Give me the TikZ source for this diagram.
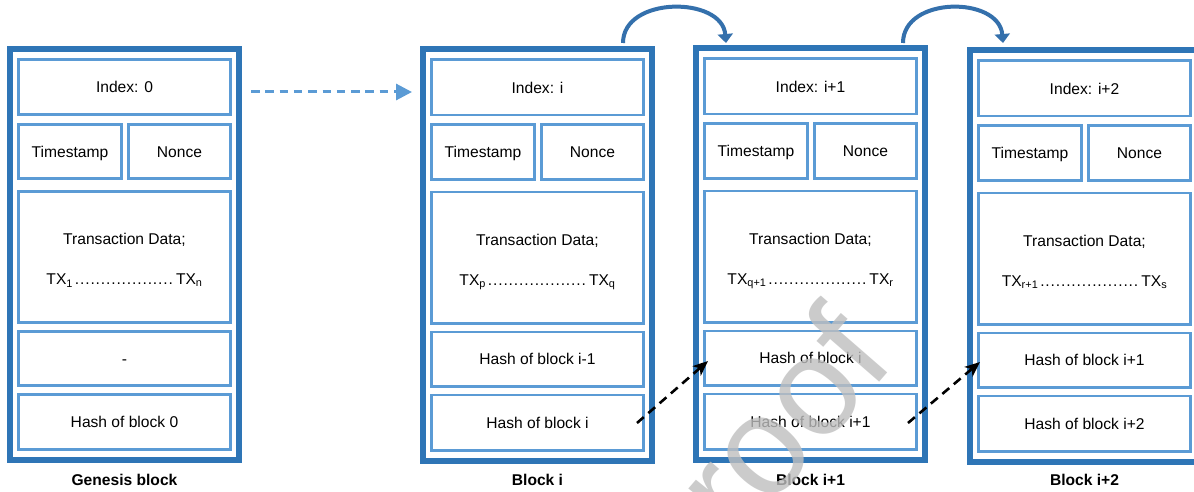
\documentclass[tikz,border=0pt]{standalone}
\usepackage{fontspec}
\setmainfont{Liberation Sans}
\usetikzlibrary{fit,arrows.meta,calc}
\definecolor{frameblue}{RGB}{46,117,182}
\definecolor{cellblue}{RGB}{91,155,213}
\definecolor{curveblue}{RGB}{52,112,172}
\newcommand{\txdots}{\hbox to 100pt{\leaders\hbox to 5.2pt{\hss.\hss}\hfill}}
\tikzset{
  frame/.style={draw=frameblue, line width=6pt, inner sep=0pt, fill=white},
  cell/.style={draw=cellblue, line width=2.6pt, inner sep=0pt},
  txt/.style={inner sep=0pt, text height=11.2pt, text depth=0pt},
  blklabel/.style={inner sep=0pt, text height=11.2pt, text depth=0pt, font=\fontsize{15.6pt}{18pt}\selectfont\bfseries},
  bluedash/.style={draw=cellblue, line width=3pt, dash pattern=on 8.5pt off 5.8pt, -{Triangle[length=16pt,width=16pt]}},
  curvearrow/.style={draw=curveblue, line width=4pt, -{Triangle[length=9pt,width=15pt]}},
  blackdash/.style={draw=black, line width=2.6pt, dash pattern=on 9pt off 6pt, -{Stealth[length=15pt,width=12.5pt,inset=4pt]}},
  watermark/.style={inner sep=0pt, text=black!25, text opacity=0.8, font=\fontsize{140pt}{140pt}\selectfont}
}
\newcommand{\chainblk}[9]{%
  \node[frame, fit={(#2+3,#3+3) (#2+232,#3+414)}] (#1) {};
  \node[cell, fit={(#2+11.3,#3+13.3) (#2+223.7,#3+68.7)}] (#1-idx) {};
  \node[cell, fit={(#2+11.3,#3+78.3) (#2+114.7,#3+132.7)}] (#1-ts) {};
  \node[cell, fit={(#2+121.3,#3+78.3) (#2+223.7,#3+132.7)}] (#1-nc) {};
  \node[cell, fit={(#2+11.3,#3+145.3) (#2+223.7,#3+276.7)}] (#1-tx) {};
  \node[cell, fit={(#2+11.3,#3+285.3) (#2+223.7,#3+339.7)}] (#1-h1) {};
  \node[cell, fit={(#2+11.3,#3+348.3) (#2+223.7,#3+403.7)}] (#1-h2) {};
  \node[txt] (#1-idxt) at (#1-idx.center) {Index: #4};
  \node[txt] (#1-tst) at (#1-ts.center) {Timestamp};
  \node[txt] (#1-nct) at (#1-nc.center) {Nonce};
  \node[txt] (#1-txa) at (#2+117.5,#3+193) {Transaction Data;};
  \node[txt] (#1-txb) at (#2+117.5,#3+233) {TX\textsubscript{#5}\kern1.5pt\txdots\kern1.5pt TX\textsubscript{#6}};
  \node[txt] (#1-h1t) at (#1-h1.center) {#7};
  \node[txt] (#1-h2t) at (#1-h2.center) {#8};
  \node[blklabel] (#1-lab) at (#2+117.5,480) {#9};
}
\begin{document}
\begin{tikzpicture}[x=1pt, y=-1pt, font=\fontsize{15.6pt}{18pt}\selectfont]
\useasboundingbox (0,0) rectangle (1194,492);
\fill[white] (0,0) rectangle (1194,492);
\clip (0,0) rectangle (1194,492);

\chainblk{G}{7}{46}{0}{1}{n}{-}{Hash of block 0}{Genesis block}
\chainblk{Bi}{420}{46.5}{i}{p}{q}{Hash of block i-1}{Hash of block i}{Block i}
\chainblk{Bi1}{693}{45.5}{i+1}{q+1}{r}{Hash of block i}{Hash of block i+1}{Block i+1}
\chainblk{Bi2}{967}{47.5}{i+2}{r+1}{s}{Hash of block i+1}{Hash of block i+2}{Block i+2}

% dashed blue arrow from genesis to block i
\coordinate (ay) at (0,92);
\draw[bluedash, shorten <=9pt, shorten >=8pt] (G.east |- ay) -- (Bi.west |- ay);

% curved arrows over the tops
\draw[curvearrow] ([xshift=-32pt,yshift=3.5pt]Bi.north east) .. controls +(0,-47) and +(-4,-47) .. ([xshift=33pt,yshift=2.5pt]Bi1.north west);
\draw[curvearrow] ([xshift=-25pt,yshift=2.5pt]Bi1.north east) .. controls +(0,-47) and +(-4,-47) .. ([xshift=36pt,yshift=4.5pt]Bi2.north west);

% black dashed hash arrows
\draw[blackdash] ([xshift=-8pt,yshift=-0.5pt]Bi-h2.east) -- ([xshift=5pt,yshift=-3pt]Bi1-h1.west);
\draw[blackdash] ([xshift=-10pt,yshift=-1.5pt]Bi1-h2.east) -- ([xshift=3pt,yshift=-2pt]Bi2-h1.west);

% watermark
\node[watermark, rotate=49, anchor=base west] (wm) at (677,615) {Proof};
\end{tikzpicture}
\end{document}
